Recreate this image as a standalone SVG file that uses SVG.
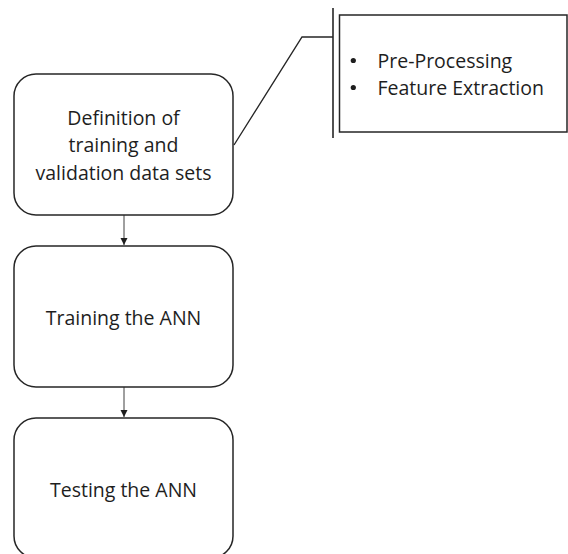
<svg xmlns="http://www.w3.org/2000/svg" width="568" height="554" viewBox="0 0 568 554">
<defs>
<style>
.box{fill:#fff;stroke:#262626;stroke-width:1.5}
.t{font-family:"Open Sans","Liberation Sans",sans-serif;font-size:19.5px;fill:#1e1e1e}
.c{text-anchor:middle}
.ln{stroke:#262626;stroke-width:1.4;fill:none}
.ar{stroke:#404040;stroke-width:1;fill:none}
.b{fill:#1e1e1e}
</style>
<marker id="ah" markerWidth="8" markerHeight="8" refX="7" refY="4" orient="auto" markerUnits="userSpaceOnUse">
<path d="M0,0.5 L7,4 L0,7.5 Z" fill="#1e1e1e"/>
</marker>
</defs>
<rect width="568" height="554" fill="#fff"/>
<g id="connectors">
<line class="ar" x1="124" y1="215" x2="124" y2="245" marker-end="url(#ah)"/>
<line class="ar" x1="124" y1="387" x2="124" y2="417" marker-end="url(#ah)"/>
<polyline class="ln" points="234,145 302,37 333,37"/>
<line class="ln" x1="333" y1="8" x2="333" y2="138" style="stroke-width:1.6"/>
</g>
<g id="node-definition">
<rect class="box" x="14" y="74" width="219" height="141" rx="22"/>
<text class="t c" x="123.5" y="125">Definition of</text>
<text class="t c" x="123.5" y="152">training and</text>
<text class="t c" x="123.5" y="180">validation data sets</text>
</g>
<g id="node-training">
<rect class="box" x="14" y="246" width="219" height="141" rx="22"/>
<text class="t c" x="123.5" y="325">Training the ANN</text>
</g>
<g id="node-testing">
<rect class="box" x="14" y="418" width="219" height="140" rx="22"/>
<text class="t c" x="123.5" y="497">Testing the ANN</text>
</g>
<g id="node-callout">
<rect class="box" x="339.5" y="15" width="227.5" height="117"/>
<circle class="b" cx="353.3" cy="60.5" r="2.6"/>
<text class="t" x="377.5" y="68">Pre-Processing</text>
<circle class="b" cx="353.3" cy="87.5" r="2.6"/>
<text class="t" x="377.5" y="95">Feature Extraction</text>
</g>
</svg>
